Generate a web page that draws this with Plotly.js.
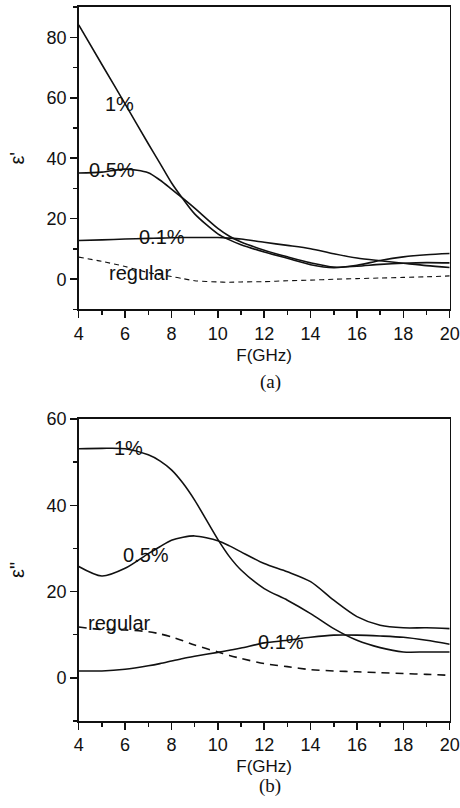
<!DOCTYPE html>
<html>
<head>
<meta charset="utf-8">
<script src="https://cdn.plot.ly/plotly-3.0.1.min.js"></script>
<style>html,body{margin:0;padding:0;background:#fff;}#chart{width:460px;height:808px;}</style>
</head>
<body>
<div id="chart"></div>
<script>
// Frequency grid (GHz)
const freq = [4, 5, 6, 7, 7.5, 8, 8.5, 9, 10, 10.5, 11, 12, 13, 14, 15, 16, 17, 18, 19, 20];

// (a) real permittivity epsilon'
const ep1pct   = [84.1, 71, 58, 44.8, 38.4, 31.9, 26.5, 21.6, 15.0, 13.0, 11.4, 9.0, 6.9, 4.8, 3.8, 4.6, 6.2, 7.4, 8.1, 8.5];
const ep05pct  = [35.1, 35.4, 36.4, 35.2, 32.8, 29.8, 26.7, 23.5, 16.8, 14.2, 12.3, 9.6, 7.4, 5.4, 4.0, 4.3, 4.9, 5.3, 5.5, 5.4];
const ep01pct  = [12.8, 13.0, 13.3, 13.5, 13.6, 13.7, 13.8, 13.8, 13.8, 13.6, 13.3, 12.2, 11.2, 10.1, 8.4, 7.0, 6.1, 5.3, 4.5, 3.9];
const epReg    = [7.3, 5.9, 4.2, 2.2, 1.5, 0.9, 0.2, -0.5, -0.9, -1.0, -0.9, -0.8, -0.5, -0.3, 0.0, 0.2, 0.4, 0.6, 0.8, 1.1];

// (b) imaginary permittivity epsilon''
const epp1pct  = [53.1, 53.2, 53.1, 51.7, 50.3, 48.2, 45.1, 41.2, 32.1, 28.1, 25.0, 20.7, 18.0, 14.9, 11.4, 8.7, 7.0, 6.0, 6.0, 6.0];
const epp05pct = [25.8, 23.6, 25.4, 28.8, 30.4, 31.9, 32.6, 32.9, 31.8, 30.6, 29.2, 26.5, 24.6, 22.3, 18.0, 14.2, 12.2, 11.6, 11.6, 11.4];
const epp01pct = [1.6, 1.6, 2.0, 2.8, 3.3, 3.9, 4.5, 5.0, 5.9, 6.4, 6.9, 8.1, 8.7, 9.4, 9.9, 9.9, 9.7, 9.4, 8.7, 7.8];
const eppReg   = [11.8, 11.2, 11.1, 10.7, 10.2, 9.5, 8.6, 7.6, 6.0, 5.2, 4.5, 3.3, 2.6, 1.9, 1.6, 1.4, 1.2, 1.0, 0.8, 0.6];

// Curve label texts and positions
const labelsA = ["1%", "0.5%", "0.1%", "regular"];
const labelAx = [5.74, 5.44, 7.59, 6.65];
const labelAy = [57.9, 36, 14, 2.1];
const labelsB = ["1%", "0.5%", "0.1%", "regular"];
const labelBx = [6.16, 6.9, 12.73, 5.74];
const labelBy = [53.3, 28.5, 8.2, 12.8];

const solid = {color: '#111', width: 1.6, shape: 'spline', smoothing: 0.8};
const dashA = {color: '#111', width: 1.1, dash: '5px,4px', shape: 'spline', smoothing: 0.8};
const dashB = {color: '#111', width: 1.6, dash: '8px,6px', shape: 'spline', smoothing: 0.8};

const traces = [
  {x: freq, y: ep1pct, mode: 'lines', line: solid, xaxis: 'x', yaxis: 'y'},
  {x: freq, y: ep05pct, mode: 'lines', line: solid, xaxis: 'x', yaxis: 'y'},
  {x: freq, y: ep01pct, mode: 'lines', line: solid, xaxis: 'x', yaxis: 'y'},
  {x: freq, y: epReg, mode: 'lines', line: dashA, xaxis: 'x', yaxis: 'y'},
  {x: freq, y: epp1pct, mode: 'lines', line: solid, xaxis: 'x2', yaxis: 'y2'},
  {x: freq, y: epp05pct, mode: 'lines', line: solid, xaxis: 'x2', yaxis: 'y2'},
  {x: freq, y: epp01pct, mode: 'lines', line: solid, xaxis: 'x2', yaxis: 'y2'},
  {x: freq, y: eppReg, mode: 'lines', line: dashB, xaxis: 'x2', yaxis: 'y2'}
];

const font = 'Liberation Sans, Arial, sans-serif';
const tickFont = {family: font, size: 18, color: '#111'};

function xAx(anchor) {
  return {
    domain: [0.1711, 0.9776], anchor: anchor, range: [4, 20], dtick: 2, tick0: 4,
    ticks: 'outside', ticklen: 7, tickwidth: 1.5, tickcolor: '#111',
    minor: {dtick: 1, ticks: 'outside', ticklen: 4, tickwidth: 1.5, tickcolor: '#111', showgrid: false},
    showline: true, linecolor: '#111', linewidth: 1.6, mirror: true,
    showgrid: false, zeroline: false, tickfont: tickFont, automargin: false,
    title: {text: 'F(GHz)', font: {family: font, size: 17, color: '#111'}, standoff: 6}
  };
}
function yAx(anchor, domain, range, title) {
  return {
    domain: domain, anchor: anchor, range: range, dtick: 20, tick0: 0,
    ticks: 'outside', ticklen: 7, tickwidth: 1.5, tickcolor: '#111',
    minor: {dtick: 10, ticks: 'outside', ticklen: 4, tickwidth: 1.5, tickcolor: '#111', showgrid: false},
    showline: true, linecolor: '#111', linewidth: 1.6, mirror: true,
    showgrid: false, zeroline: false, tickfont: tickFont, automargin: false,
    title: {text: title, font: {family: font, size: 20, color: '#111'}, standoff: 16}
  };
}

const annotations = [];
labelsA.forEach((t, i) => annotations.push({x: labelAx[i], y: labelAy[i], xref: 'x', yref: 'y', text: t, showarrow: false, font: {family: font, size: 20, color: '#111'}}));
labelsB.forEach((t, i) => annotations.push({x: labelBx[i], y: labelBy[i], xref: 'x2', yref: 'y2', text: t, showarrow: false, font: {family: font, size: 20, color: '#111'}}));
annotations.push({x: 0.587, y: 1 - 382/808, xref: 'paper', yref: 'paper', text: '(a)', showarrow: false, borderpad: 0, font: {family: 'Liberation Serif, Times New Roman, serif', size: 19, color: '#111'}});
annotations.push({x: 0.587, y: 1 - 798/808, xref: 'paper', yref: 'paper', text: '(b)', showarrow: false, borderpad: 0, font: {family: 'Liberation Serif, Times New Roman, serif', size: 19, color: '#111'}});

const layout = {
  width: 460, height: 808,
  margin: {l: 0, r: 0, t: 0, b: 0},
  paper_bgcolor: '#fff', plot_bgcolor: '#fff',
  showlegend: false,
  xaxis: xAx('y'),
  yaxis: yAx('x', [0.6170, 0.9913], [-10, 90], "ε'"),
  xaxis2: xAx('y2'),
  yaxis2: yAx('x2', [0.1077, 0.4814], [-10, 60], 'ε"'),
  annotations: annotations
};

Plotly.newPlot('chart', traces, layout, {staticPlot: true, displayModeBar: false});
</script>
</body>
</html>
